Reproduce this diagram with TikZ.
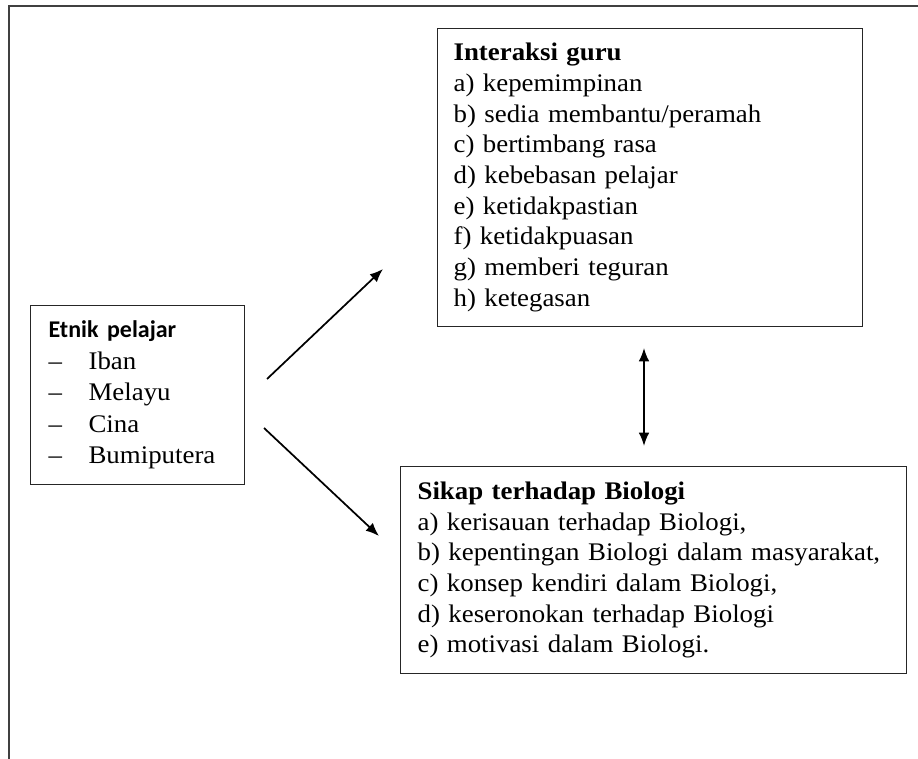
\documentclass[tikz,border=0pt]{standalone}
\usepackage{fontspec}
\setmainfont{Liberation Serif}[FakeStretch=1.06]
\newfontfamily\headsans{Carlito}
\usetikzlibrary{arrows.meta}
\newcommand{\dashitem}{\makebox[30pt][l]{--}}

\begin{document}
\begin{tikzpicture}[x=0.75pt,y=-0.75pt]
  \useasboundingbox (0,0) rectangle (918,759);
  % page frame, cut off at right and bottom
  \draw[line width=1.1pt,black!75] (9,759) -- (9,6) -- (918,6);
  \begin{scope}[every node/.style={draw,line width=0.9pt,black!85,text=black,anchor=north west,align=left,inner ysep=0pt,font=\fontsize{19}{23}\selectfont}]
  \node[text width=133.5pt,inner xsep=13.5pt,minimum width=160.5pt,minimum height=134.25pt,font=\fontsize{19}{23.6}\selectfont] (etnik) at (30,305)
       {{\headsans\bfseries\fontsize{18}{23}\selectfont Etnik pelajar}\\\dashitem Iban\\\dashitem Melayu\\\dashitem Cina\\\dashitem Bumiputera};
  \node[text width=294.75pt,inner xsep=12pt,minimum width=318.75pt,minimum height=223.5pt] (guru) at (437,28)
       {\textbf{Interaksi guru}\\a) kepemimpinan\\b) sedia membantu/peramah\\c) bertimbang rasa\\
       d) kebebasan pelajar\\e) ketidakpastian\\f) ketidakpuasan\\g) memberi teguran\\h) ketegasan};
  \node[text width=354pt,inner xsep=12.75pt,minimum width=379.5pt,minimum height=155.25pt] (sikap) at (400,466)
       {\textbf{Sikap terhadap Biologi}\\a) kerisauan terhadap Biologi,\\b) kepentingan Biologi dalam masyarakat,\\
       c) konsep kendiri dalam Biologi,\\d) keseronokan terhadap Biologi\\e) motivasi dalam Biologi.};
  \end{scope}
  \begin{scope}[every path/.style={line width=1.3pt,-{Latex[length=10pt,width=8pt]}}]
  \coordinate (upS) at (267,379);
  \coordinate (upE) at (383,269);
  \coordinate (dnS) at (264,428);
  \coordinate (dnE) at (379,536);
  \coordinate (biA) at (644,348);
  \coordinate (biB) at (644,446);
  \draw (upS) -- (upE);
  \draw (dnS) -- (dnE);
  \draw[{Latex[length=10pt,width=8pt]}-{Latex[length=10pt,width=8pt]}] (biA) -- (biB);
  \end{scope}
\end{tikzpicture}
\end{document}
